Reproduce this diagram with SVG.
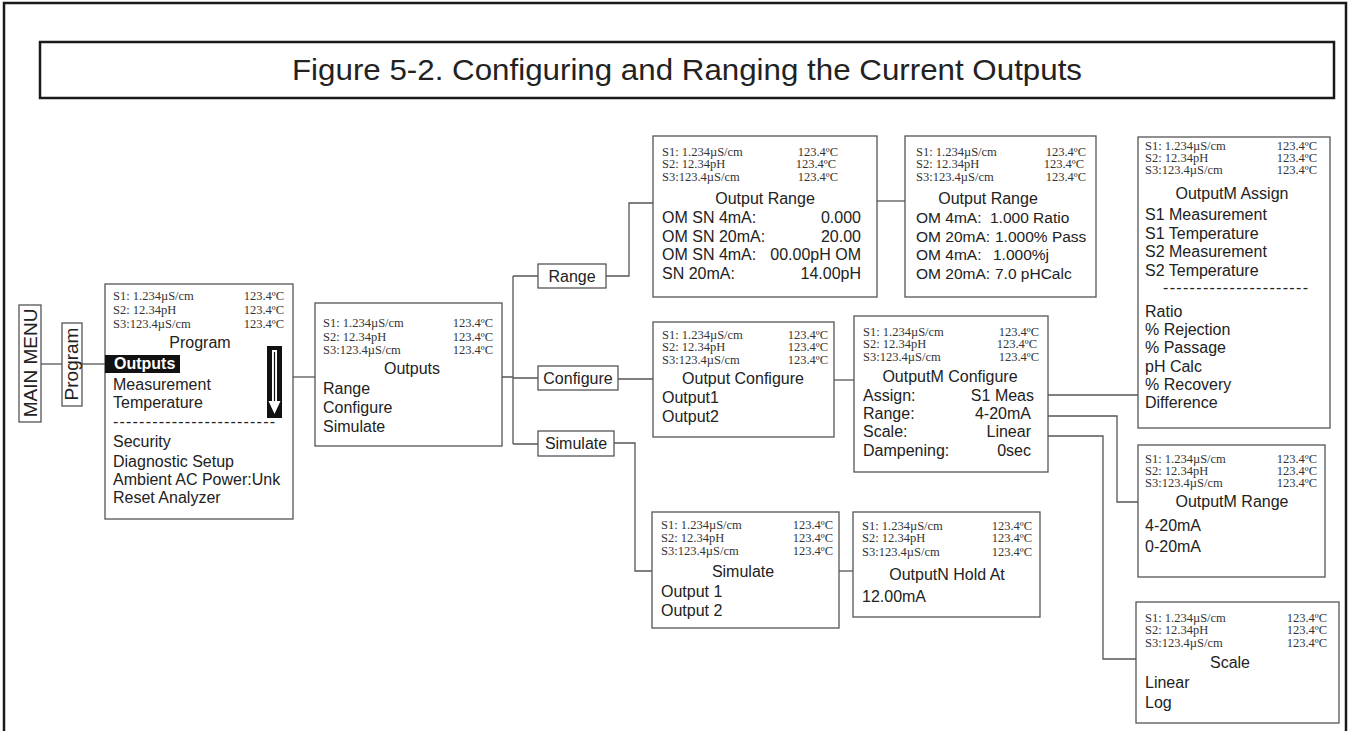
<svg xmlns="http://www.w3.org/2000/svg" width="1351" height="731" viewBox="0 0 1351 731">
<style>
.frame{fill:none;stroke:#1a1a1a;stroke-width:2.5}
.box{fill:#fff;stroke:#555;stroke-width:1.3}
.conn{fill:none;stroke:#555;stroke-width:1.3}
.st{font-family:"Liberation Serif","Times New Roman",serif;font-size:12.5px;fill:#333}
.t{font-family:"Liberation Sans",Arial,sans-serif;font-size:16px;fill:#222}
.s{font-size:15.5px}
.big{font-family:"Liberation Sans",Arial,sans-serif;font-size:19px;fill:#222}
.title{font-family:"Liberation Sans",Arial,sans-serif;font-size:30px;fill:#222}
.c{text-anchor:middle}
.r{text-anchor:end}
</style>
<rect width="1351" height="731" fill="#fff"/>
<path class="frame" d="M4,731 V3 H1346 V731"/>
<g id="title">
<rect x="40" y="42" width="1294" height="56" fill="#fff" stroke="#1a1a1a" stroke-width="2.5"/>
<text class="title c" x="687" y="80" textLength="790" lengthAdjust="spacingAndGlyphs">Figure 5-2. Configuring and Ranging the Current Outputs</text>
</g>
<g id="connectors">
<path class="conn" d="M41,364 H62"/>
<path class="conn" d="M82,364 H105"/>
<path class="conn" d="M293,377 H315"/>
<path class="conn" d="M502,377 H513 M513,276 V444 M513,276 H538 M513,378 H538 M513,444 H538"/>
<path class="conn" d="M606,276 H629 V203 H653"/>
<path class="conn" d="M618,379 H653"/>
<path class="conn" d="M614,443 H635 V571 H652"/>
<path class="conn" d="M877,201 H905"/>
<path class="conn" d="M834,380 H854"/>
<path class="conn" d="M839,571 H853"/>
<path class="conn" d="M1041,395 H1138"/>
<path class="conn" d="M1040,416 H1117 V502 H1138"/>
<path class="conn" d="M1038,436 H1103 V659 H1136"/>
</g>
<g id="mainmenu">
<rect class="box" x="19" y="305" width="22" height="117"/>
<text class="big c" transform="translate(37,363) rotate(-90)">MAIN MENU</text>
</g>
<g id="program-label">
<rect class="box" x="62" y="323" width="20" height="83"/>
<text class="big c" transform="translate(78,364) rotate(-90)">Program</text>
</g>
<g id="program">
<rect class="box" x="105" y="284" width="188" height="235"/>
<text class="st" x="113" y="300">S1: 1.234µS/cm</text><text class="st r" x="284" y="300">123.4ºC</text>
<text class="st" x="113" y="314">S2: 12.34pH</text><text class="st r" x="284" y="314">123.4ºC</text>
<text class="st" x="113" y="328">S3:123.4µS/cm</text><text class="st r" x="284" y="328">123.4ºC</text>
<text class="t c" x="200" y="348">Program</text>
<rect x="105" y="355" width="75" height="18" fill="#111"/>
<text class="t" x="114" y="369" style="fill:#fff;font-weight:bold">Outputs</text>
<text class="t" x="113" y="390">Measurement</text>
<text class="t" x="113" y="408">Temperature</text>
<rect x="267" y="346" width="15" height="72" fill="#111"/>
<polygon points="272,350 277,350 277,401 280.5,401 274.5,414 268.5,401 272,401" fill="#fff"/>
<line x1="274.5" y1="352" x2="274.5" y2="401" stroke="#111" stroke-width="1.2"/>
<text class="t" x="113" y="427" textLength="162" lengthAdjust="spacing">-------------------------</text>
<text class="t" x="113" y="447">Security</text>
<text class="t" x="113" y="467">Diagnostic Setup</text>
<text class="t" x="113" y="485">Ambient AC Power:Unk</text>
<text class="t" x="113" y="503">Reset Analyzer</text>
</g>
<g id="outputs">
<rect class="box" x="315" y="303" width="187" height="143"/>
<text class="st" x="323" y="327">S1: 1.234µS/cm</text><text class="st r" x="493" y="327">123.4ºC</text>
<text class="st" x="323" y="341">S2: 12.34pH</text><text class="st r" x="493" y="341">123.4ºC</text>
<text class="st" x="323" y="354">S3:123.4µS/cm</text><text class="st r" x="493" y="354">123.4ºC</text>
<text class="t c" x="412" y="374">Outputs</text>
<text class="t" x="323" y="394">Range</text>
<text class="t" x="323" y="413">Configure</text>
<text class="t" x="323" y="432">Simulate</text>
</g>
<g id="range-label">
<rect class="box" x="538" y="264" width="68" height="24"/>
<text class="t c" x="572" y="282">Range</text>
</g>
<g id="configure-label">
<rect class="box" x="538" y="366" width="80" height="24"/>
<text class="t c" x="578" y="384">Configure</text>
</g>
<g id="simulate-label">
<rect class="box" x="538" y="431" width="76" height="25"/>
<text class="t c" x="576" y="449">Simulate</text>
</g>
<g id="output-range-1">
<rect class="box" x="653" y="136" width="224" height="161"/>
<text class="st" x="662" y="156">S1: 1.234µS/cm</text><text class="st r" x="838" y="156">123.4ºC</text>
<text class="st" x="662" y="168">S2: 12.34pH</text><text class="st r" x="836" y="168">123.4ºC</text>
<text class="st" x="662" y="181">S3:123.4µS/cm</text><text class="st r" x="838" y="181">123.4ºC</text>
<text class="t c" x="765" y="204">Output Range</text>
<text class="t" x="662" y="223">OM SN 4mA:</text><text class="t r" x="861" y="223">0.000</text>
<text class="t" x="662" y="242">OM SN 20mA:</text><text class="t r" x="861" y="242">20.00</text>
<text class="t" x="662" y="260">OM SN 4mA:</text><text class="t r" x="861" y="260">00.00pH OM</text>
<text class="t" x="662" y="279">SN 20mA:</text><text class="t r" x="861" y="279">14.00pH</text>
</g>
<g id="output-range-2">
<rect class="box" x="905" y="136" width="191" height="161"/>
<text class="st" x="916" y="156">S1: 1.234µS/cm</text><text class="st r" x="1086" y="156">123.4ºC</text>
<text class="st" x="916" y="168">S2: 12.34pH</text><text class="st r" x="1084" y="168">123.4ºC</text>
<text class="st" x="916" y="181">S3:123.4µS/cm</text><text class="st r" x="1086" y="181">123.4ºC</text>
<text class="t c" x="988" y="204">Output Range</text>
<text class="t s" x="916" y="223">OM 4mA:</text><text class="t s" x="990" y="223">1.000 Ratio</text>
<text class="t s" x="916" y="242">OM 20mA:</text><text class="t s" x="995" y="242">1.000% Pass</text>
<text class="t s" x="916" y="260">OM 4mA:</text><text class="t s" x="993" y="260">1.000%j</text>
<text class="t s" x="916" y="279">OM 20mA:</text><text class="t s" x="995" y="279">7.0 pHCalc</text>
</g>
<g id="outputm-assign">
<rect class="box" x="1138" y="137" width="192" height="291"/>
<text class="st" x="1145" y="150">S1: 1.234µS/cm</text><text class="st r" x="1317" y="150">123.4ºC</text>
<text class="st" x="1145" y="162">S2: 12.34pH</text><text class="st r" x="1317" y="162">123.4ºC</text>
<text class="st" x="1145" y="174">S3:123.4µS/cm</text><text class="st r" x="1317" y="174">123.4ºC</text>
<text class="t c" x="1232" y="199">OutputM Assign</text>
<text class="t" x="1145" y="220">S1 Measurement</text>
<text class="t" x="1145" y="239">S1 Temperature</text>
<text class="t" x="1145" y="257">S2 Measurement</text>
<text class="t" x="1145" y="276">S2 Temperature</text>
<text class="t" x="1163" y="293" textLength="145" lengthAdjust="spacing">----------------------</text>
<text class="t" x="1145" y="317">Ratio</text>
<text class="t" x="1145" y="335">% Rejection</text>
<text class="t" x="1145" y="353">% Passage</text>
<text class="t" x="1145" y="372">pH Calc</text>
<text class="t" x="1145" y="390">% Recovery</text>
<text class="t" x="1145" y="408">Difference</text>
</g>
<g id="output-configure">
<rect class="box" x="653" y="322" width="181" height="115"/>
<text class="st" x="662" y="339">S1: 1.234µS/cm</text><text class="st r" x="828" y="339">123.4ºC</text>
<text class="st" x="662" y="351">S2: 12.34pH</text><text class="st r" x="828" y="351">123.4ºC</text>
<text class="st" x="662" y="364">S3:123.4µS/cm</text><text class="st r" x="828" y="364">123.4ºC</text>
<text class="t c" x="743" y="384">Output Configure</text>
<text class="t" x="662" y="403">Output1</text>
<text class="t" x="662" y="422">Output2</text>
</g>
<g id="outputm-configure">
<rect class="box" x="854" y="316" width="194" height="156"/>
<text class="st" x="863" y="336">S1: 1.234µS/cm</text><text class="st r" x="1039" y="336">123.4ºC</text>
<text class="st" x="863" y="348">S2: 12.34pH</text><text class="st r" x="1037" y="348">123.4ºC</text>
<text class="st" x="863" y="361">S3:123.4µS/cm</text><text class="st r" x="1039" y="361">123.4ºC</text>
<text class="t c" x="950" y="382">OutputM Configure</text>
<text class="t" x="863" y="401">Assign:</text><text class="t r" x="1034" y="401">S1 Meas</text>
<text class="t" x="863" y="419">Range:</text><text class="t r" x="1031" y="419">4-20mA</text>
<text class="t" x="863" y="437">Scale:</text><text class="t r" x="1031" y="437">Linear</text>
<text class="t" x="863" y="456">Dampening:</text><text class="t r" x="1031" y="456">0sec</text>
</g>
<g id="outputm-range">
<rect class="box" x="1138" y="445" width="187" height="132"/>
<text class="st" x="1145" y="463">S1: 1.234µS/cm</text><text class="st r" x="1317" y="463">123.4ºC</text>
<text class="st" x="1145" y="475">S2: 12.34pH</text><text class="st r" x="1317" y="475">123.4ºC</text>
<text class="st" x="1145" y="487">S3:123.4µS/cm</text><text class="st r" x="1317" y="487">123.4ºC</text>
<text class="t c" x="1232" y="507">OutputM Range</text>
<text class="t" x="1145" y="531">4-20mA</text>
<text class="t" x="1145" y="552">0-20mA</text>
</g>
<g id="simulate">
<rect class="box" x="652" y="512" width="187" height="116"/>
<text class="st" x="661" y="529">S1: 1.234µS/cm</text><text class="st r" x="833" y="529">123.4ºC</text>
<text class="st" x="661" y="542">S2: 12.34pH</text><text class="st r" x="833" y="542">123.4ºC</text>
<text class="st" x="661" y="555">S3:123.4µS/cm</text><text class="st r" x="833" y="555">123.4ºC</text>
<text class="t c" x="743" y="577">Simulate</text>
<text class="t" x="661" y="597">Output 1</text>
<text class="t" x="661" y="616">Output 2</text>
</g>
<g id="hold-at">
<rect class="box" x="853" y="512" width="187" height="105"/>
<text class="st" x="862" y="530">S1: 1.234µS/cm</text><text class="st r" x="1032" y="530">123.4ºC</text>
<text class="st" x="862" y="542">S2: 12.34pH</text><text class="st r" x="1032" y="542">123.4ºC</text>
<text class="st" x="862" y="556">S3:123.4µS/cm</text><text class="st r" x="1032" y="556">123.4ºC</text>
<text class="t c" x="947" y="580">OutputN Hold At</text>
<text class="t" x="862" y="602">12.00mA</text>
</g>
<g id="scale">
<rect class="box" x="1136" y="602" width="203" height="121"/>
<text class="st" x="1145" y="622">S1: 1.234µS/cm</text><text class="st r" x="1327" y="622">123.4ºC</text>
<text class="st" x="1145" y="634">S2: 12.34pH</text><text class="st r" x="1327" y="634">123.4ºC</text>
<text class="st" x="1145" y="647">S3:123.4µS/cm</text><text class="st r" x="1327" y="647">123.4ºC</text>
<text class="t c" x="1230" y="668">Scale</text>
<text class="t" x="1145" y="688">Linear</text>
<text class="t" x="1145" y="708">Log</text>
</g>
</svg>
